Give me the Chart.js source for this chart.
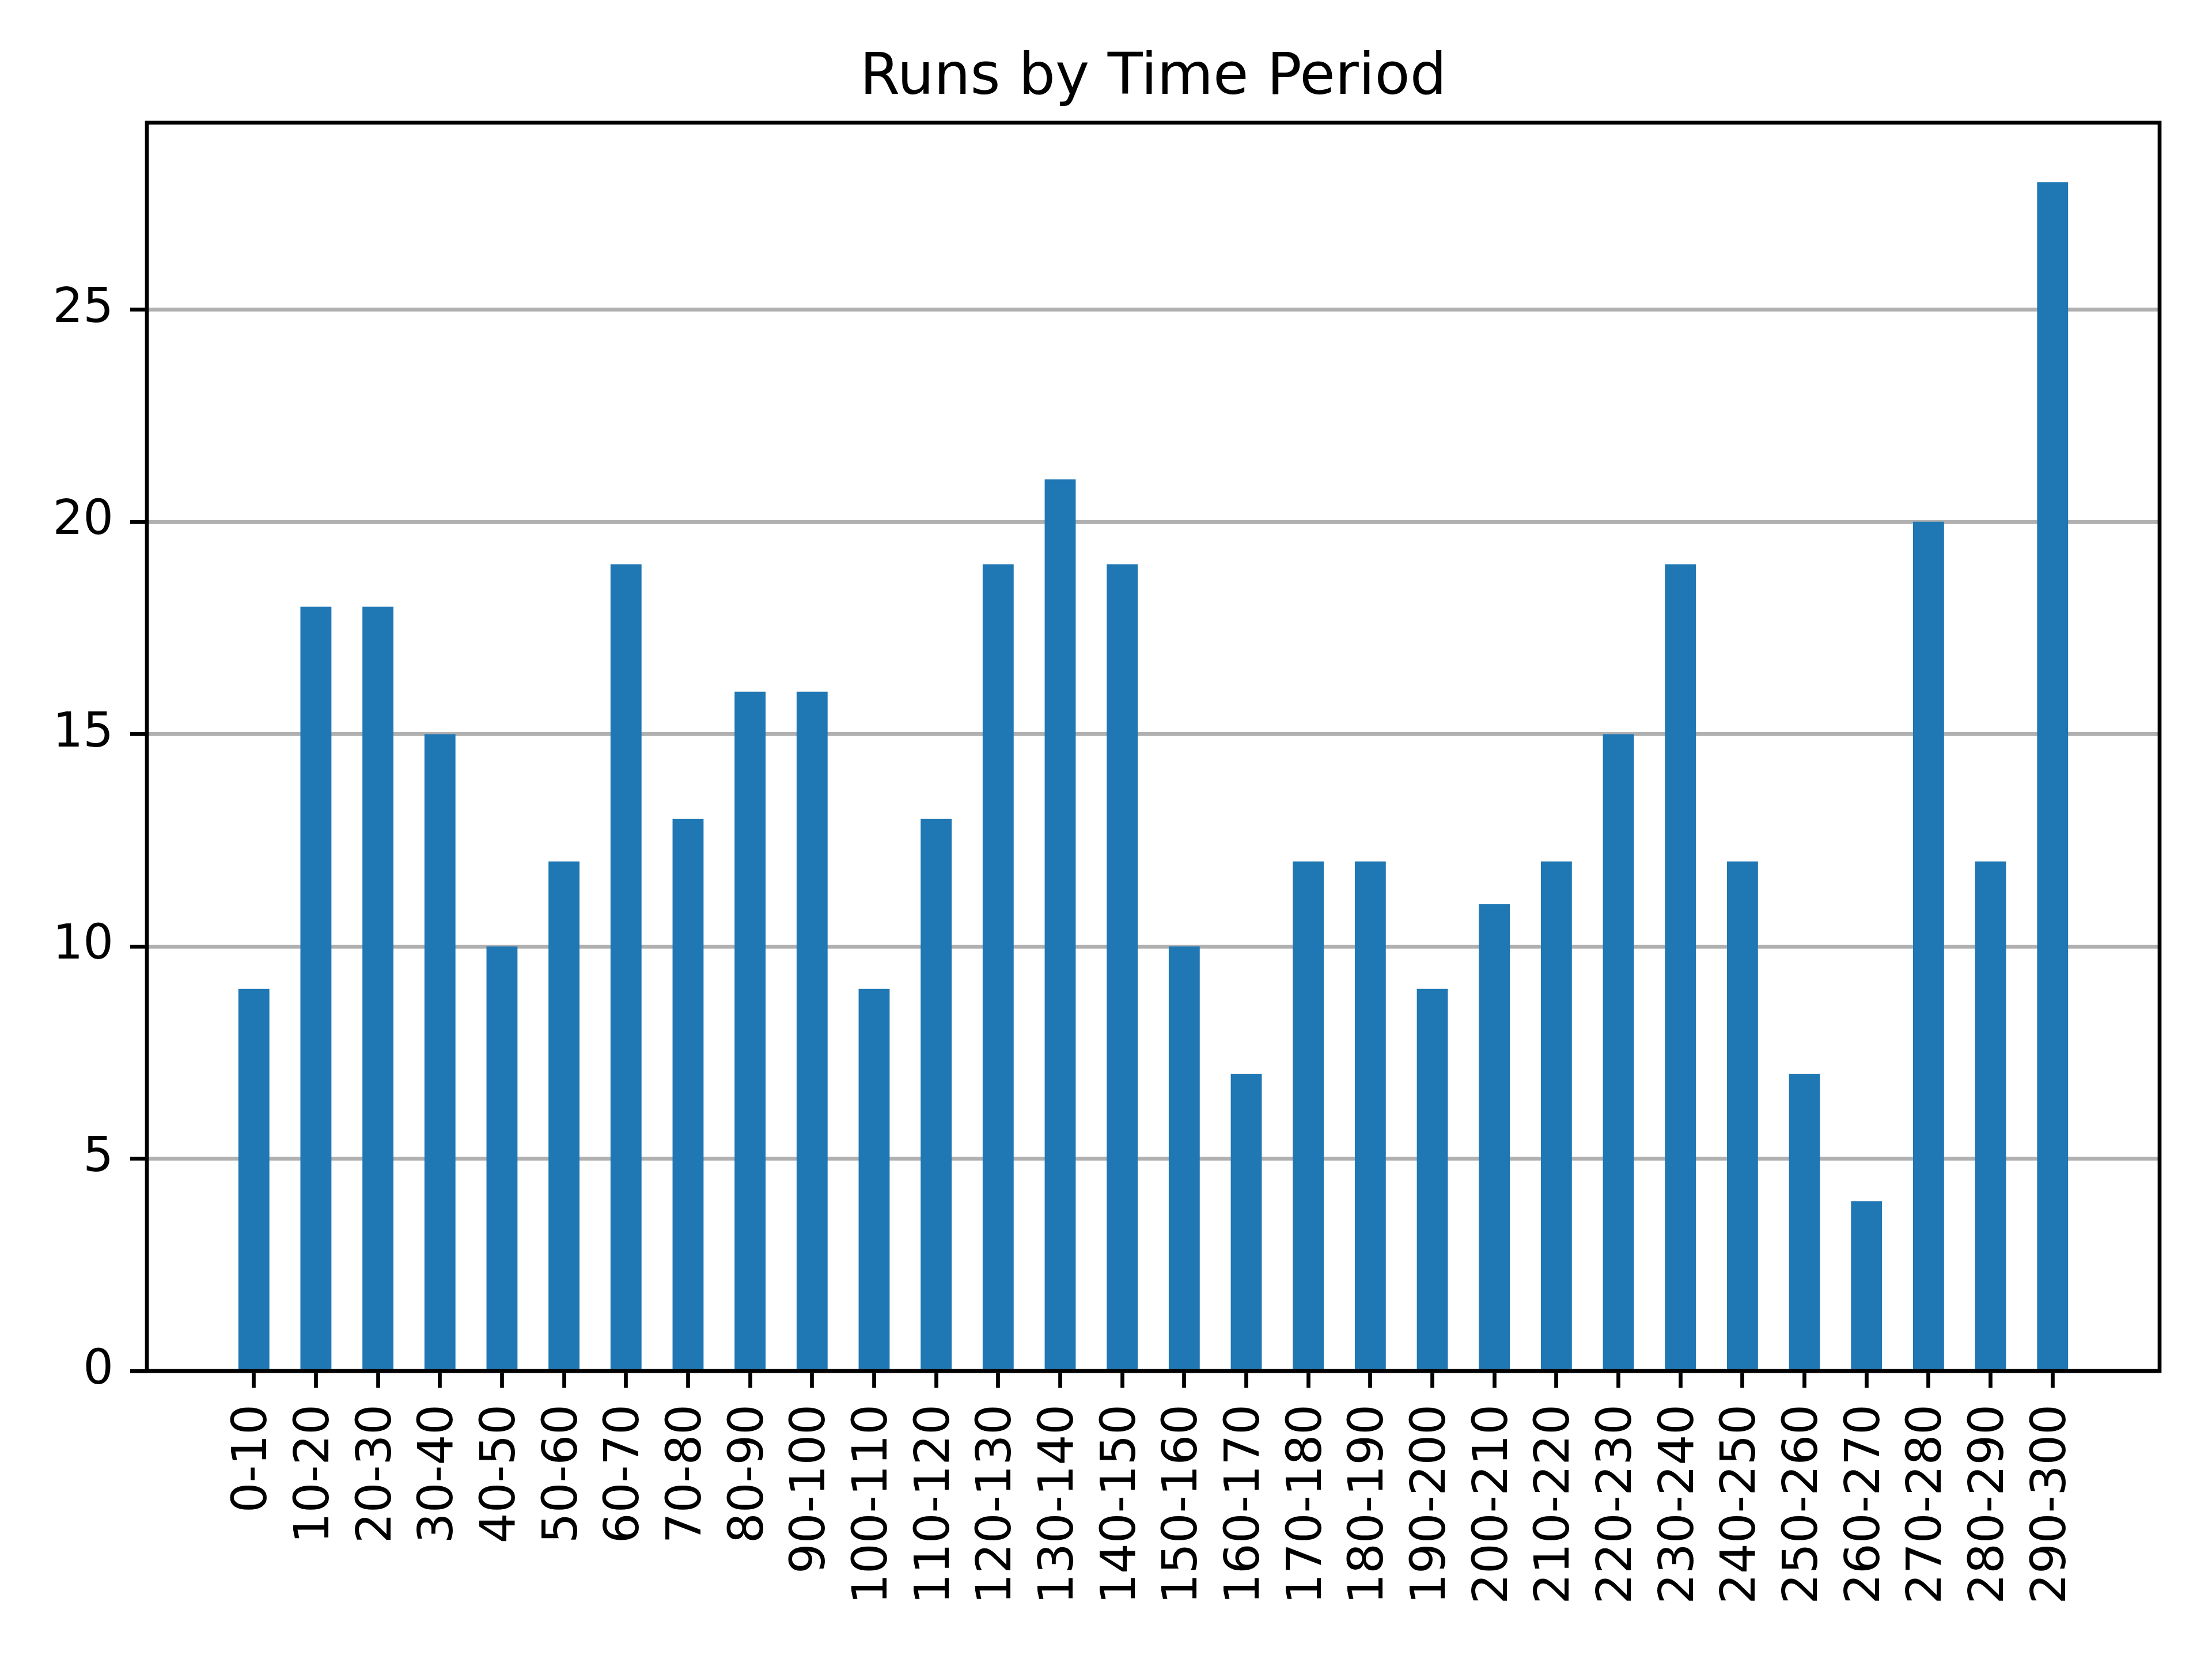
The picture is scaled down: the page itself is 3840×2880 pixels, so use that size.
<!DOCTYPE html>
<html>
<head>
<meta charset="utf-8">
<script src="https://cdn.jsdelivr.net/npm/chart.js@4"></script>
<style>
  html, body { margin: 0; padding: 0; background: #fff; }
  #wrap { width: 3840px; height: 2880px; }
</style>
</head>
<body>
<div id="wrap"><canvas id="chart" width="3840" height="2880"></canvas></div>
<script>
// data
const periods = ["0-10", "10-20", "20-30", "30-40", "40-50", "50-60", "60-70", "70-80", "80-90", "90-100",
  "100-110", "110-120", "120-130", "130-140", "140-150", "150-160", "160-170", "170-180", "180-190", "190-200",
  "200-210", "210-220", "220-230", "230-240", "240-250", "250-260", "260-270", "270-280", "280-290", "290-300"];
const runs = [9, 18, 18, 15, 10, 12, 19, 13, 16, 16, 9, 13, 19, 21, 19, 10, 7, 12, 12, 9, 11, 12, 15, 19, 12, 7, 4, 20, 12, 28];
const yTicks = [0, 5, 10, 15, 20, 25];

const LW = 6.7;        // 0.8pt at 600 dpi
const TICK = 29;       // 3.5pt
const FONT = "'DejaVu Sans', sans-serif";

// matplotlib-style frame round the plot area
const frame = {
  id: "frame",
  afterDraw(c) {
    const a = c.chartArea, ctx = c.ctx;
    ctx.save();
    ctx.strokeStyle = "#000";
    ctx.lineWidth = LW;
    ctx.strokeRect(a.left, a.top, a.right - a.left, a.bottom - a.top);
    ctx.restore();
  }
};

Chart.defaults.font.family = FONT;
Chart.defaults.color = "#000";

const ctx = document.getElementById("chart").getContext("2d");
new Chart(ctx, {
  type: "bar",
  data: {
    datasets: [{
      label: "Runs",
      data: runs.map((v, i) => ({ x: i, y: v })),
      backgroundColor: "#1f77b4",
      borderWidth: 0,
      barPercentage: 0.5,
      categoryPercentage: 1.0
    }]
  },
  options: {
    responsive: false,
    animation: false,
    devicePixelRatio: 1,
    layout: { padding: { left: 0, right: 91, top: 0, bottom: 0 } },
    plugins: {
      legend: { display: false },
      tooltip: { enabled: false },
      title: {
        display: true,
        fullSize: false, // centre over the plot area like matplotlib
        text: "Runs by Time Period",
        color: "#000",
        font: { family: FONT, size: 100, weight: "normal", lineHeight: 1.2 },
        padding: { top: 77, bottom: 16 }
      }
    },
    scales: {
      x: {
        type: "linear",
        offset: false,
        min: -1.725,
        max: periods.length - 1 + 1.725,
        afterBuildTicks: (s) => { s.ticks = periods.map((p, i) => ({ value: i })); },
        afterFit: (s) => { s.height = 500; },
        border: { display: false },
        grid: {
          offset: false,
          drawOnChartArea: false,
          drawTicks: true,
          tickLength: TICK,
          tickColor: "#000",
          tickWidth: LW
        },
        ticks: {
          autoSkip: false,
          minRotation: 90,
          maxRotation: 90,
          padding: 29,
          color: "#000",
          font: { family: FONT, size: 83 },
          callback: (v) => periods[v]
        }
      },
      y: {
        min: 0,
        max: 29.4,
        z: 1,
        afterBuildTicks: (s) => { s.ticks = yTicks.map((v) => ({ value: v })); },
        afterFit: (s) => { s.width = 255; },
        border: { display: false },
        grid: {
          color: "#b0b0b0",
          lineWidth: LW,
          drawTicks: true,
          tickLength: TICK,
          tickColor: "#000",
          tickWidth: LW
        },
        ticks: {
          padding: 29,
          color: "#000",
          font: { family: FONT, size: 83 }
        }
      }
    }
  },
  plugins: [frame]
});
</script>
</body>
</html>
